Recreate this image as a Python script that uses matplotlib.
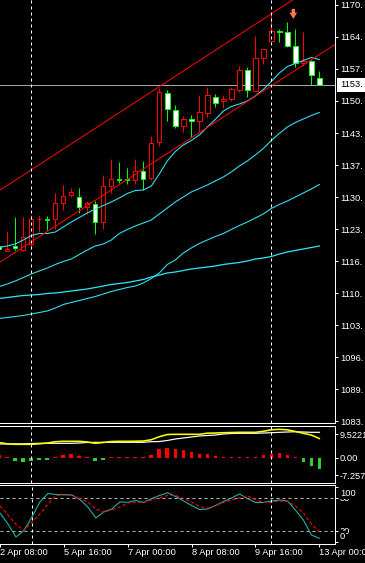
import matplotlib
matplotlib.use("Agg")
import matplotlib.pyplot as plt
import numpy as np
from matplotlib.transforms import blended_transform_factory, offset_copy

# ---------------- data ----------------
time_labels = ["2 Apr 08:00", "5 Apr 16:00", "7 Apr 00:00", "8 Apr 08:00", "9 Apr 16:00", "13 Apr 00:00"]
label_bars = [0, 8, 16, 24, 32, 40]
separator_bars = [4, 34]

opens = [1119.92, 1118.81, 1119.85, 1119.08, 1120.33, 1125.46, 1125.50, 1125.56, 1129.01, 1130.58,
         1130.26, 1127.97, 1128.80, 1124.87, 1132.52, 1133.86, 1133.99, 1133.61, 1135.70, 1134.03,
         1141.60, 1151.84, 1148.45, 1145.07, 1146.40, 1146.11, 1147.72, 1151.17, 1150.13, 1150.59,
         1152.43, 1156.71, 1152.38, 1159.16, 1162.84, 1164.93, 1164.59, 1161.67, 1158.17, 1158.59,
         1154.98]
highs = [1120.33, 1123.11, 1126.04, 1126.04, 1126.40, 1126.40, 1126.29, 1131.00, 1132.77, 1131.94,
         1131.98, 1129.22, 1129.22, 1134.76, 1138.04, 1137.48, 1136.22, 1138.00, 1137.69, 1142.81,
         1153.05, 1152.47, 1149.39, 1147.09, 1147.37, 1151.38, 1153.16, 1151.63, 1151.38, 1153.26,
         1157.55, 1157.40, 1163.88, 1161.10, 1168.90, 1165.22, 1166.75, 1165.22, 1164.72, 1158.80,
         1156.50]
lows = [1119.08, 1118.77, 1119.08, 1118.93, 1119.92, 1122.84, 1123.26, 1123.47, 1127.44, 1130.16,
        1126.82, 1126.61, 1122.43, 1123.47, 1131.00, 1133.09, 1132.88, 1132.88, 1131.62, 1133.71,
        1140.82, 1146.15, 1144.59, 1143.85, 1142.70, 1143.75, 1146.95, 1149.04, 1148.77, 1150.23,
        1152.17, 1151.00, 1152.32, 1157.97, 1162.56, 1162.63, 1161.58, 1157.40, 1157.55, 1153.58,
        1153.58]
closes = [1119.39, 1119.23, 1119.56, 1121.90, 1125.46, 1125.56, 1125.29, 1128.91, 1130.47, 1131.27,
          1127.97, 1128.91, 1124.87, 1132.46, 1133.86, 1133.65, 1133.61, 1135.70, 1133.86, 1141.55,
          1152.11, 1148.50, 1145.00, 1146.40, 1146.15, 1147.93, 1151.48, 1149.75, 1150.59, 1152.68,
          1156.71, 1152.43, 1159.16, 1161.04, 1164.86, 1164.72, 1161.83, 1158.17, 1158.59, 1155.67,
          1153.58]

ma_fast = [1119.60, 1119.92, 1120.33, 1121.17, 1122.11, 1122.53, 1122.53, 1122.84, 1123.89, 1124.93,
           1125.87, 1126.82, 1127.65, 1128.38, 1129.12, 1129.95, 1130.89, 1131.52, 1131.62, 1132.46,
           1134.97, 1137.69, 1139.67, 1141.03, 1141.97, 1143.12, 1144.79, 1146.36, 1148.14, 1149.08,
           1149.60, 1150.23, 1151.28, 1152.63, 1154.31, 1156.08, 1157.44, 1158.07, 1158.70, 1159.32,
           1158.91]
ma_mid = [1111.45, 1111.97, 1112.60, 1113.33, 1114.06, 1114.69, 1115.32, 1116.05, 1116.68, 1117.20,
          1118.14, 1119.08, 1119.92, 1120.33, 1121.17, 1122.53, 1123.37, 1124.10, 1124.72, 1125.35,
          1126.61, 1127.86, 1129.12, 1130.16, 1131.21, 1131.94, 1132.67, 1133.51, 1134.34, 1135.39,
          1136.64, 1137.69, 1138.94, 1140.30, 1141.97, 1143.44, 1144.79, 1145.74, 1146.47, 1147.20,
          1147.83]
ma_slow = [1104.76, 1104.97, 1105.18, 1105.39, 1105.70, 1106.01, 1106.33, 1106.95, 1107.69, 1108.11,
           1108.52, 1108.94, 1109.36, 1109.88, 1110.40, 1110.82, 1111.24, 1111.55, 1112.18, 1113.12,
           1114.27, 1116.05, 1116.99, 1118.45, 1119.50, 1120.44, 1121.17, 1121.90, 1122.53, 1123.37,
           1124.20, 1124.93, 1125.77, 1126.61, 1127.76, 1128.59, 1129.32, 1130.16, 1131.00, 1131.83,
           1132.77]
ma_long = [1108.94, 1109.15, 1109.36, 1109.57, 1109.67, 1109.78, 1109.99, 1110.09, 1110.30, 1110.51,
           1110.72, 1110.93, 1111.24, 1111.55, 1111.87, 1112.08, 1112.29, 1112.60, 1112.91, 1113.44,
           1113.85, 1114.27, 1114.48, 1114.79, 1115.11, 1115.32, 1115.53, 1115.74, 1116.05, 1116.26,
           1116.47, 1116.78, 1117.20, 1117.41, 1117.72, 1118.24, 1118.66, 1118.98, 1119.29, 1119.60,
           1119.92]

channel_bars = [0, 42]
channel_upper = [1131.49, 1177.15]
channel_lower = [1116.44, 1162.09]

signal_bar = 36.75
signal_price = 1167.4

price_tick_labels = ["1170.", "1164.", "1157.", "1150.", "1143.", "1137.", "1130.",
                     "1123.", "1116.", "1110.", "1103.", "1096.", "1089.", "1083."]
price_tick_top = 1170.30
price_tick_step = 6.69

macd_hist = [1.0, 0.4, -1.3, -1.8, -1.3, -0.9, -0.9, 0.4, 1.1, 1.6,
             0.7, 0.4, -1.3, -0.9, 0.4, 0.4, 0.4, 0.4, 0.4, 1.1,
             3.5, 4.0, 3.6, 3.1, 2.2, 1.6, 1.6, 0.7, 0.4, 0.4,
             0.4, 0.4, 0.4, 1.1, 1.6, 2.0, 1.1, 0.4, -1.8, -3.5,
             -4.7]
macd_white = [5.52, 5.52, 5.60, 5.60, 5.72, 5.80, 5.80, 5.80, 5.80, 5.80,
              5.93, 6.13, 6.21, 6.21, 6.21, 6.21, 6.21, 6.21, 6.21, 6.46,
              6.54, 6.95, 7.56, 7.97, 8.38, 8.79, 8.99, 9.19, 9.60, 9.81,
              9.89, 9.89, 9.89, 10.01, 10.13, 10.30, 10.42, 10.54, 10.42, 10.30,
              10.30]
macd_yellow = [6.13, 5.60, 5.39, 5.39, 5.39, 5.60, 5.93, 6.46, 6.62, 6.62,
               6.62, 6.33, 5.80, 6.13, 6.54, 6.62, 6.62, 6.66, 6.74, 7.27,
               8.50, 9.40, 9.48, 9.48, 9.48, 9.48, 9.93, 10.01, 10.13, 10.22,
               10.30, 10.30, 10.30, 10.71, 11.32, 11.52, 11.32, 10.63, 9.89, 9.19,
               7.76]
macd_tick_values = [9.522, 0.0, -7.257]
macd_tick_labels = ["9.5221", "0.00", "-7.2573"]

stoch_main = [53.3, 33.3, 9.6, 21.5, 46.0, 73.3, 88.7, 86.9, 86.5, 86.0,
              77.8, 64.2, 44.2, 55.1, 60.5, 73.3, 72.7, 76.0, 72.4, 79.6,
              85.1, 90.0, 83.3, 75.1, 66.9, 59.6, 60.5, 66.9, 74.2, 80.5,
              87.8, 79.6, 72.4, 72.4, 75.1, 76.9, 75.1, 58.7, 40.5, 13.3,
              7.3]
stoch_signal = [66.0, 49.6, 32.4, 21.5, 36.9, 51.5, 69.6, 85.1, 86.0, 85.1,
                79.6, 73.3, 60.5, 55.1, 58.7, 64.2, 71.5, 72.7, 72.7, 76.9,
                80.9, 85.1, 85.1, 79.6, 73.3, 65.1, 61.8, 66.9, 72.4, 76.9,
                80.9, 84.5, 77.8, 72.4, 72.4, 75.1, 74.2, 66.0, 53.3, 33.3,
                18.7]
stoch_levels = [80, 20]
stoch_label_values = [80, 20, 100, 0]
stoch_label_texts = ["80", "20", "100", "0"]

# ---------------- styling ----------------
W, H, DPI = 365, 563, 100
PX = 72.0 / DPI
FS = 6.7
plt.rcParams['font.family'] = ['Liberation Sans', 'DejaVu Sans']

BULL = '#ff0000'
BEAR = '#00ff00'
CYAN = '#30e0f0'

fig = plt.figure(figsize=(W / DPI, H / DPI), dpi=DPI, facecolor='black')


def axes_px(top, bottom, right=335):
    a = fig.add_axes([0, 1 - bottom / H, right / W, (bottom - top) / H], facecolor='black')
    for s in a.spines.values():
        s.set_color('white')
        s.set_linewidth(PX)
    a.spines['left'].set_visible(False)
    a.set_xlim(0.09, 41.96)
    return a


ax = axes_px(0, 423.3)
ax.spines['top'].set_visible(False)
axm = axes_px(425.7, 483.3)
axs = axes_px(484.7, 544)

bars = np.arange(len(closes))

# ---------------- main panel ----------------
ax.set_ylim(1082.85, 1171.345)
ax.axhline(closes[-1], color='#a0a8b0', lw=PX, zorder=1)

for i, (o, h, l, c) in enumerate(zip(opens, highs, lows, closes)):
    col = BULL if c >= o else BEAR
    ax.vlines(i, l, h, color=col, lw=PX, zorder=3)
body_bottom = [min(o, c) for o, c in zip(opens, closes)]
body_height = [max(abs(c - o), 0.05) for o, c in zip(opens, closes)]
faces = ['black' if c >= o else 'white' for o, c in zip(opens, closes)]
edges = [BULL if c >= o else BEAR for o, c in zip(opens, closes)]
ax.bar(bars, body_height, bottom=body_bottom, width=0.55, color=faces,
       edgecolor=edges, linewidth=PX, zorder=4)

for ma, lw in [(ma_fast, 1.1), (ma_mid, 1.1), (ma_slow, 1.1), (ma_long, 1.3)]:
    ax.plot(bars, ma, color=CYAN, lw=PX * lw, zorder=5)

ax.plot(channel_bars, channel_upper, color=BULL, lw=PX, zorder=5)
ax.plot(channel_bars, channel_lower, color=BULL, lw=PX, zorder=5)

ax.annotate('', xy=(signal_bar, signal_price), xytext=(0, 10), textcoords='offset pixels',
            arrowprops=dict(arrowstyle='simple,head_length=0.45,head_width=0.55,tail_width=0.25',
                            fc='#ff7755', ec='#ff7755', lw=0, shrinkA=0, shrinkB=0,
                            mutation_scale=10), zorder=6)

ticks = [price_tick_top - k * price_tick_step for k in range(len(price_tick_labels))]
ax.yaxis.tick_right()
ax.set_yticks(ticks)
ax.set_yticklabels(price_tick_labels)
ax.tick_params(axis='y', colors='white', labelsize=FS, length=2, width=PX, pad=1.5)
ax.tick_params(axis='x', bottom=False, labelbottom=False)

tr = blended_transform_factory(ax.transAxes, ax.transData)
ax.text(1, closes[-1], f"{int(closes[-1])}.", transform=offset_copy(tr, fig=fig, x=5, y=0, units='dots'),
        color='black', fontsize=FS, va='center', ha='left', clip_on=False, zorder=10,
        bbox=dict(boxstyle='square,pad=0.3', fc='white', ec='white', lw=0))

# ---------------- MACD-like panel ----------------
axm.set_ylim(-10.54, 13.0)
hcols = ['#ff0000' if v > 0 else '#32cd32' for v in macd_hist]
axm.bar(bars, macd_hist, width=0.45, color=hcols, lw=0, zorder=2)
axm.plot(bars, macd_white, color='white', lw=PX * 1.2, zorder=3)
axm.plot(bars, macd_yellow, color='#ffff00', lw=PX * 1.6, zorder=4)
axm.yaxis.tick_right()
axm.set_yticks(macd_tick_values)
axm.set_yticklabels(macd_tick_labels)
axm.tick_params(axis='y', colors='white', labelsize=FS, length=2, width=PX, pad=1.5)
axm.tick_params(axis='x', bottom=False, labelbottom=False)

# ---------------- Stochastic panel ----------------
axs.set_ylim(-3.1, 104.7)
for lv in stoch_levels:
    axs.axhline(lv, color='#b8b8b8', lw=PX, dashes=(3, 3), zorder=1)
axs.plot(bars, stoch_main, color='#20b2aa', lw=PX * 1.1, zorder=3)
axs.plot(bars, stoch_signal, color='#ff0000', lw=PX * 1.1, dashes=(3, 2), zorder=4)
axs.yaxis.tick_right()
axs.set_yticks(stoch_label_values)
axs.set_yticklabels([])
axs.tick_params(axis='y', colors='white', length=2, width=PX)
trs = blended_transform_factory(axs.transAxes, axs.transData)
label_shift = {100: -6, 0: 5.6}
for v, t in zip(stoch_label_values, stoch_label_texts):
    dy = label_shift.get(v, 0)
    kw = {}
    if v in label_shift:
        kw['bbox'] = dict(boxstyle='square,pad=0.1', fc='black', ec='none')
    axs.text(1, v, t, transform=offset_copy(trs, fig=fig, x=5, y=dy, units='dots'),
             color='white', fontsize=FS, va='center', ha='left', clip_on=False, zorder=10, **kw)

axs.set_xticks(label_bars)
axs.set_xticklabels([])
axs.tick_params(axis='x', colors='white', length=2, width=PX, direction='out')
trx = blended_transform_factory(axs.transData, axs.transAxes)
for b, lab in zip(label_bars, time_labels):
    axs.text(b, 0, lab, transform=offset_copy(trx, fig=fig, x=0, y=-8.5, units='dots'),
             color='white', fontsize=FS, va='center', ha='left', clip_on=False)

# weekly separators through all panels
for a in (ax, axm, axs):
    for b in separator_bars:
        a.axvline(b, color='white', lw=PX, dashes=(3, 3), zorder=7)

fig.savefig('out.png', dpi=DPI, facecolor='black')
